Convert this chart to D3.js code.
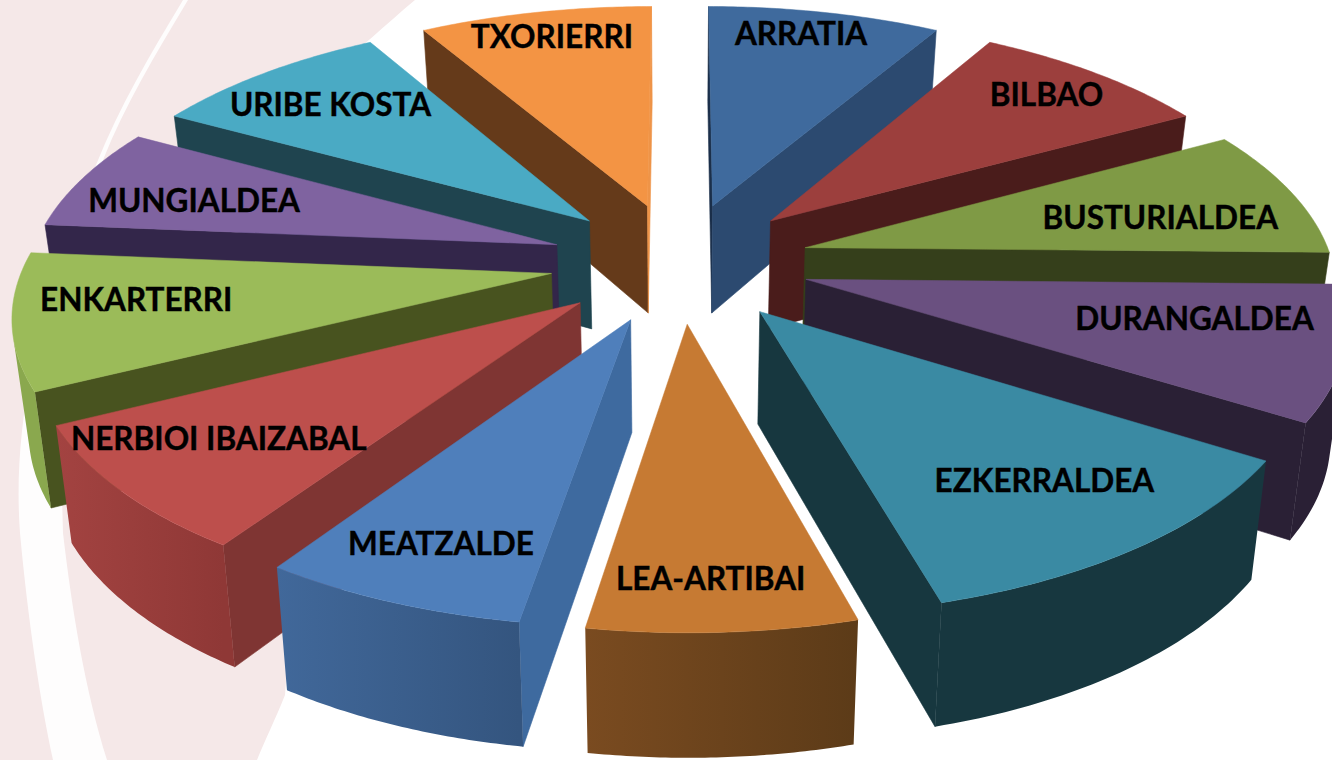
<!DOCTYPE html>
<html><head><meta charset="utf-8">
<script src="https://cdn.jsdelivr.net/npm/d3@7/dist/d3.min.js"></script>
<style>html,body{margin:0;padding:0;background:#fff;overflow:hidden}svg{display:block}
text{font-family:Lato,"Open Sans",sans-serif;font-weight:700;fill:#000;stroke:#000;stroke-width:.4px}</style></head>
<body><svg id="c" width="1332" height="760"></svg>
<script>
const categories=["ARRATIA","BILBAO","BUSTURIALDEA","DURANGALDEA","EZKERRALDEA","LEA-ARTIBAI","MEATZALDE","NERBIOI IBAIZABAL","ENKARTERRI","MUNGIALDEA","URIBE KOSTA","TXORIERRI"];
const values=[8.33,8.61,8.33,8.61,11.78,6.83,6.81,8.19,8.75,6.67,8.61,8.33];

const topColors=["#3f6a9d","#9c3f3d","#7f9a45","#6a5080","#3a8aa3","#c67a33","#4f7fbb","#bd4f4c","#9bbb59","#7f63a0","#4aaac4","#f39444"];
const startFace=["#1b2f4a","#4a1c1b","#353f1b","#2a2035","#17373f","#5a3a18","#3e6a9f","#7f3533","#48531f","#33264a","#1f444f","#653a1a"];
const endFace=["#2c4a70","#4a1c1b","#353f1b","#2a2035","#17373f","#6a4018","#3e6a9f","#7f3533","#48531f","#33264a","#1f444f","#ee9448"];
const wallLeft=["#2c4a70","#4a1c1b","#353f1b","#2a2035","#17373f","#7a4b20","#41689a","#a34341","#8aa84e","#33264a","#1f444f","#653a1a"];
const wallRight=["#2c4a70","#4a1c1b","#353f1b","#2a2035","#17373f","#5c3b18","#34557f","#8f3836","#8aa84e","#33264a","#1f444f","#653a1a"];
const labelNudge=[[2,-23],[27,-13],[-11,12],[-9,-16],[11,-1],[-2,34],[-17,21],[-27,0],[-15,-9],[-5,6],[-10,-3],[-9,-20]];

const svg=d3.select("#c");
const defs=svg.append("defs");
const cx=680,cy=262,R=527,explode=130,total=R+explode;
const persp=0.1815,tilt=303.6,baseScale=0.975;
const depth=d3.scaleLinear().domain([0,1]).range([110,125]);

function proj(X,Y){const u=Y/total,s=1/(1-persp*u);return {x:cx+X*s,y:cy+tilt*u*s,u};}
function low(p){return {x:cx+(p.x-cx)*baseScale,y:p.y+depth(p.u)};}
const line=d3.line().x(d=>d.x).y(d=>d.y);
const poly=pts=>line(pts)+"Z";
const area=pts=>d3.polygonArea(pts.map(p=>[p.x,p.y]));

// background swoosh
const bg=svg.append("g");
bg.append("path").attr("fill","#f5e8e8").attr("d","M0,0L415,0C385,25 360,50 330,70C300,250 300,500 285,695C275,720 265,740 257,760L0,760Z");
bg.append("path").attr("fill","#fff").attr("opacity",.9).attr("d","M183,0C150,55 120,105 96,165C55,260 10,400 20,533C28,620 40,700 53,760L107,760C85,690 72,610 63,533C60,430 60,340 72,270C85,220 100,170 103,160C125,105 155,55 188,0Z");

const arcs=d3.pie().value(d=>d).sort(null).startAngle(0).endAngle(2*Math.PI)(values);
const order=d3.range(values.length).sort((a,b)=>{
 const m=i=>(arcs[i].startAngle+arcs[i].endAngle)/2;
 return Math.cos(m(b))-Math.cos(m(a));
});
const steps=48,marks=svg.append("g");
function sliceGeom(i){
 const a=arcs[i],mid=(a.startAngle+a.endAngle)/2;
 const ox=explode*Math.sin(mid),oy=-explode*Math.cos(mid);
 const rim=d3.range(steps+1).map(k=>{
   const t=a.startAngle+(a.endAngle-a.startAngle)*k/steps;
   return proj(ox+R*Math.sin(t),oy-R*Math.cos(t));
 });
 return {apex:proj(ox,oy),rim,mid};
}
order.forEach(i=>{
 const g=sliceGeom(i),G=marks.append("g");
 const face=(a,b,col)=>{const q=[a,b,low(b),low(a)];if(area(q)>0)G.append("path").attr("d",poly(q)).attr("fill",col).attr("stroke",col).attr("stroke-width",.6);};
 face(g.apex,g.rim[0],startFace[i]);
 face(g.rim[steps],g.apex,endFace[i]);
 const seen=d3.range(steps).filter(k=>area([g.rim[k],g.rim[k+1],low(g.rim[k+1]),low(g.rim[k])])>0);
 if(seen.length){
  const run=g.rim.slice(d3.min(seen),d3.max(seen)+2);
  const xs=d3.extent(run,p=>p.x),id="wall"+i;
  const lg=defs.append("linearGradient").attr("id",id).attr("gradientUnits","userSpaceOnUse")
    .attr("x1",xs[0]).attr("x2",xs[1]).attr("y1",0).attr("y2",0);
  lg.append("stop").attr("offset",0).attr("stop-color",wallLeft[i]);
  lg.append("stop").attr("offset",1).attr("stop-color",wallRight[i]);
  G.append("path").attr("d",poly([...run,...run.map(low).reverse()])).attr("fill",`url(#${id})`);
 }
 G.append("path").attr("d",poly([g.apex,...g.rim])).attr("fill",topColors[i]).attr("stroke",topColors[i]).attr("stroke-width",.5);
});
const labels=svg.append("g").attr("font-size",31.5).attr("text-anchor","middle");
categories.forEach((c,i)=>{
 const g=sliceGeom(i),r=0.75*525+130;
 const p=proj(r*Math.sin(g.mid),-r*Math.cos(g.mid));
 labels.append("text").attr("x",p.x+labelNudge[i][0]).attr("y",p.y+labelNudge[i][1]).attr("dy","0.36em").text(c);
});
</script></body></html>
